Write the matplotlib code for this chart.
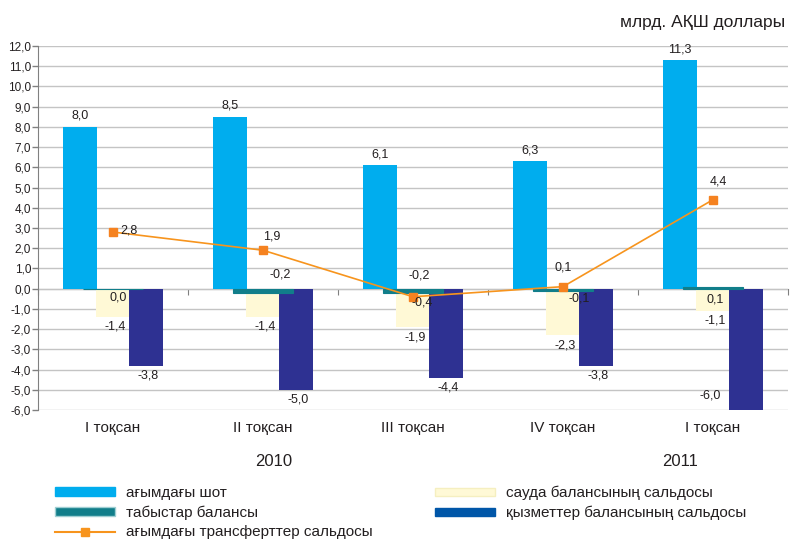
import matplotlib
matplotlib.use("Agg")
import matplotlib.pyplot as plt
import numpy as np
from matplotlib.patches import Patch
from matplotlib.lines import Line2D

plt.rcParams['font.family'] = ['Liberation Sans', 'DejaVu Sans']

# data
quarters = ["I тоқсан", "II тоқсан", "III тоқсан", "IV тоқсан", "I тоқсан"]
years = ["2010", "2011"]
current_account = [8.0, 8.5, 6.1, 6.3, 11.3]
trade_balance = [-1.4, -1.4, -1.9, -2.3, -1.1]
income_balance = [0.0, -0.2, -0.2, -0.1, 0.1]
services_balance = [-3.8, -5.0, -4.4, -3.8, -6.0]
transfers_balance = [2.8, 1.9, -0.4, 0.1, 4.4]

names = ["ағымдағы шот", "табыстар балансы", "ағымдағы трансферттер сальдосы",
         "сауда балансының сальдосы", "қызметтер балансының сальдосы"]

BLUE = "#00adee"
TEAL = "#117e8a"
CREAM = "#fff9d6"
NAVY = "#2e3192"
NAVY_LEG = "#0056a8"
ORANGE = "#f7941d"


def fmt(v):
    return f"{v:.1f}".replace(".", ",")


W, H = 792, 540
fig = plt.figure(figsize=(W / 100, H / 100), dpi=100)
ax = fig.add_axes([38 / W, 1 - 410 / H, 750 / W, 364 / H])

x = np.arange(len(quarters))
bw = 0.225
step = 0.22

ax.bar(x - step, current_account, bw, color=BLUE, zorder=2)
ax.bar(x, trade_balance, bw, color=CREAM, zorder=2)
ax.bar(x + step, services_balance, bw, color=NAVY, zorder=2)
ax.bar(x, income_balance, 0.4, color=TEAL, edgecolor=TEAL, linewidth=0.8, zorder=3)
ax.plot(x, transfers_balance, color=ORANGE, lw=1.2, marker="s", ms=6,
        mfc="#f58220", mec="#f58220", zorder=5)

# data labels (offsets in pixels)
lab_kw = dict(textcoords="offset pixels", ha="center", va="center",
              fontsize=9, color="#231f20", zorder=6)
for i in range(len(x)):
    ax.annotate(fmt(current_account[i]), (x[i] - step, current_account[i]),
                xytext=(0, 11), **lab_kw)
    ax.annotate(fmt(trade_balance[i]), (x[i], trade_balance[i]),
                xytext=(2, -10), **lab_kw)

navy_off = [(2, -10), (2, -10), (2, -10), (2, -10), (-36, 14)]
for i in range(len(x)):
    ax.annotate(fmt(services_balance[i]), (x[i] + step, services_balance[i]),
                xytext=navy_off[i], **lab_kw)

teal_off = [(5, -9), (17, 18), (6, 17), (16, -8), (2, -13)]
for i in range(len(x)):
    ax.annotate(fmt(income_balance[i]), (x[i], income_balance[i]),
                xytext=teal_off[i], **lab_kw)

line_off = [(16, 2), (9, 14), (9, -6), (0, 19), (5, 18)]
for i in range(len(x)):
    ax.annotate(fmt(transfers_balance[i]), (x[i], transfers_balance[i]),
                xytext=line_off[i], **lab_kw)

# axes styling
ax.set_xlim(-0.5, len(x) - 0.5)
ax.set_ylim(-6, 12)
yt = np.arange(-6, 13, 1)
ax.set_yticks(yt)
ax.set_yticklabels([fmt(v) for v in yt], fontsize=8.5, color="#231f20")
ax.yaxis.grid(True, color="#c4c4c4", lw=1.0, zorder=0)
ax.set_axisbelow(True)
ax.tick_params(axis="y", length=4, width=1, color="#808080", pad=1)
for s in ["top", "right", "bottom"]:
    ax.spines[s].set_visible(False)
ax.spines["left"].set_color("#808080")

ax.set_xticks(x)
ax.set_xticklabels(quarters, fontsize=11, color="#231f20")
ax.tick_params(axis="x", length=0, pad=8)

# zero line with category ticks
zero_ax = ax.secondary_xaxis(6 / 18)
zero_ax.spines["bottom"].set_color("#808080")
zero_ax.set_xticks(np.concatenate([x, np.arange(len(x) + 1) - 0.5]))
zero_ax.set_xticklabels([])
zero_ax.tick_params(direction="out", length=4, color="#808080")

# years, unit
fig.text(274 / W, 1 - 462 / H, years[0], ha="center", va="center", fontsize=12, color="#231f20")
fig.text(680 / W, 1 - 462 / H, years[1], ha="center", va="center", fontsize=12, color="#231f20")
fig.text(785 / W, 1 - 22 / H, "млрд. АҚШ доллары", ha="right", va="center",
         fontsize=12.5, color="#231f20")

# legend
leg_kw = dict(frameon=False, fontsize=11, handlelength=3.9, handleheight=0.45,
              handletextpad=0.75, labelspacing=0.36, borderpad=0, borderaxespad=0,
              loc="upper left", labelcolor="#231f20")
h1 = [Patch(color=BLUE, label=names[0]),
      Patch(facecolor=TEAL, edgecolor="#9fcfd3", label=names[1]),
      Line2D([], [], color=ORANGE, lw=1.5, marker="s", ms=6, label=names[2])]
h2 = [Patch(facecolor=CREAM, edgecolor="#f5efc0", label=names[3]),
      Patch(color=NAVY_LEG, label=names[4])]
fig.legend(handles=h1, bbox_to_anchor=(55 / W, 1 - 486 / H), **leg_kw)
fig.legend(handles=h2, bbox_to_anchor=(435 / W, 1 - 486 / H), **leg_kw)

fig.savefig("out.png", dpi=100)
